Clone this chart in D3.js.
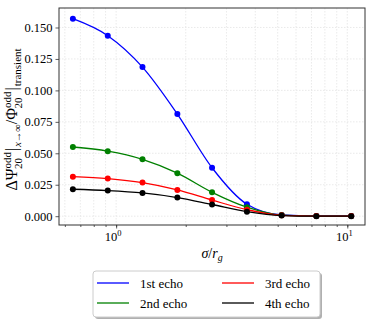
<!DOCTYPE html>
<html>
<head>
<meta charset="utf-8">
<script src="https://cdn.jsdelivr.net/npm/d3@7"></script>
<style>
    body { margin: 0; background: #fff; }
    text { font-family: "Liberation Serif", "DejaVu Serif", serif; fill: #000; }
</style>
</head>
<body>
<svg id="chart" width="374" height="322"></svg>
<script>
/*
 *  Echo amplitude ratio vs sigma / r_g.
 */
let sigmaValues = [0.65, 0.92, 1.30, 1.84, 2.60, 3.68, 5.20, 7.35, 10.4];
let echo1 = [0.157, 0.1435, 0.1185, 0.0812, 0.0385, 0.0095, 0.0010, 0.0002, 0.0002];
let echo2 = [0.0550, 0.0517, 0.0452, 0.0342, 0.0190, 0.0072, 0.0009, 0.0001, 0.0001];
let echo3 = [0.0314, 0.0299, 0.0267, 0.0209, 0.0128, 0.0052, 0.0007, 0.0001, 0.0001];
let echo4 = [0.0214, 0.0204, 0.0185, 0.0148, 0.0093, 0.0036, 0.0005, 0.0000, 0.0000];
let seriesNames = ["1st echo", "2nd echo", "3rd echo", "4th echo"];
let seriesColors = ["#0000ff", "#008000", "#ff0000", "#000000"];
let yTickValues = [0, 0.025, 0.05, 0.075, 0.1, 0.125, 0.15];

let svg = d3.select("#chart");
let margin = { left: 59, top: 8, right: 365, bottom: 225 };

let x = d3.scaleLog()
    .domain([0.566, 11.93])
    .range([margin.left, margin.right]);
let y = d3.scaleLinear()
    .domain([-0.0070, 0.1655])
    .range([margin.bottom, margin.top]);

// grid: major + minor on x, major on y
let xMinor = [];
[0.1, 1, 10].forEach(function (dec) {
    for (let k = 1; k < 10; k++) {
        let v = dec * k;
        if (v > x.domain()[0] && v < x.domain()[1]) xMinor.push(v);
    }
});
let grid = svg.append("g").attr("class", "grid");
grid.selectAll("line.vx")
    .data(xMinor)
    .enter().append("line")
    .attr("x1", d => x(d)).attr("x2", d => x(d))
    .attr("y1", margin.top).attr("y2", margin.bottom)
    .attr("stroke", "#e4e4e4").attr("stroke-width", 0.8)
    .attr("stroke-dasharray", "1.5,1.5");
grid.selectAll("line.hy")
    .data(yTickValues)
    .enter().append("line")
    .attr("x1", margin.left).attr("x2", margin.right)
    .attr("y1", d => y(d)).attr("y2", d => y(d))
    .attr("stroke", "#e4e4e4").attr("stroke-width", 0.8)
    .attr("stroke-dasharray", "1.5,1.5");

// axes
let xAxis = svg.append("g")
    .attr("transform", "translate(0," + margin.bottom + ")")
    .call(d3.axisBottom(x).tickValues(xMinor).tickSize(2).tickFormat(""));
let xMajor = svg.append("g")
    .attr("transform", "translate(0," + margin.bottom + ")")
    .call(d3.axisBottom(x).tickValues([1, 10]).tickSize(3.5).tickFormat(""));
[1, 10].forEach(function (v, i) {
    let t = svg.append("text")
        .attr("x", x(v) - 3)
        .attr("y", margin.bottom + 16)
        .attr("text-anchor", "middle")
        .style("font-size", "12.5px");
    t.append("tspan").text("10");
    t.append("tspan").attr("dy", -5).style("font-size", "8.5px").text(i);
});

let yAxis = svg.append("g")
    .attr("transform", "translate(" + margin.left + ",0)")
    .call(d3.axisLeft(y).tickValues(yTickValues).tickSize(3.5).tickPadding(3)
        .tickFormat(d3.format(".3f")));
yAxis.selectAll("text").style("font-size", "12.5px");

[xAxis, xMajor, yAxis].forEach(function (g) {
    g.select(".domain").remove();
    g.selectAll("line").attr("stroke", "#333").attr("stroke-width", 0.8);
});

svg.append("rect")
    .attr("x", margin.left).attr("y", margin.top)
    .attr("width", margin.right - margin.left)
    .attr("height", margin.bottom - margin.top)
    .attr("fill", "none").attr("stroke", "#333").attr("stroke-width", 1);

// lines + markers
let allSeries = [echo1, echo2, echo3, echo4];
let line = d3.line()
    .x(d => x(d[0]))
    .y(d => y(d[1]))
    .curve(d3.curveMonotoneX);

allSeries.forEach(function (vals, i) {
    let pts = sigmaValues.map((s, j) => [s, vals[j]]);
    svg.append("path")
        .datum(pts)
        .attr("d", line)
        .attr("fill", "none")
        .attr("stroke", seriesColors[i])
        .attr("stroke-width", 1.3);
    svg.selectAll(null)
        .data(pts)
        .enter().append("circle")
        .attr("cx", d => x(d[0]))
        .attr("cy", d => y(d[1]))
        .attr("r", 3)
        .attr("fill", seriesColors[i]);
});

// axis labels
let xl = svg.append("text")
    .attr("x", 212).attr("y", 258)
    .attr("text-anchor", "middle")
    .style("font-size", "14px");
xl.append("tspan").style("font-style", "italic").text("σ");
xl.append("tspan").text("/");
xl.append("tspan").style("font-style", "italic").text("r");
xl.append("tspan").attr("dy", 3).style("font-size", "10px").style("font-style", "italic").text("g");

let yl = svg.append("text")
    .attr("transform", "translate(17," + ((margin.top + margin.bottom) / 2 + 3) + ") rotate(-90)")
    .attr("text-anchor", "middle")
    .style("font-size", "16px");
yl.append("tspan").text("ΔΨ");
yl.append("tspan").attr("dy", -6).style("font-size", "11px").text("odd");
yl.append("tspan").attr("dx", -17).attr("dy", 11).style("font-size", "11px").text("20");
yl.append("tspan").attr("dx", 7).attr("dy", -5).text("|");
yl.append("tspan").attr("dx", 1).attr("dy", 4).style("font-size", "10.5px").style("font-style", "italic").text("x→∞");
yl.append("tspan").attr("dy", -4).text("/Φ");
yl.append("tspan").attr("dy", -6).style("font-size", "11px").text("odd");
yl.append("tspan").attr("dx", -17).attr("dy", 11).style("font-size", "11px").text("20");
yl.append("tspan").attr("dx", 7).attr("dy", -5).text("|");
yl.append("tspan").attr("dx", 1).attr("dy", 4).style("font-size", "11px").text("transient");

// legend
let lg = svg.append("g").attr("transform", "translate(93,271)");
lg.append("rect")
    .attr("x", 2).attr("y", 2).attr("width", 227).attr("height", 46)
    .attr("rx", 3).attr("fill", "#b0b0b0");
lg.append("rect")
    .attr("width", 227).attr("height", 46)
    .attr("rx", 3).attr("fill", "#fff")
    .attr("stroke", "#ccc").attr("stroke-width", 1);
let legendPos = [[0, 0], [0, 1], [1, 0], [1, 1]];
seriesNames.forEach(function (name, i) {
    let cx = legendPos[i][0] * 125;
    let cy = 12 + legendPos[i][1] * 20;
    lg.append("line")
        .attr("x1", cx + 4).attr("x2", cx + 36)
        .attr("y1", cy).attr("y2", cy)
        .attr("stroke", seriesColors[i]).attr("stroke-width", 1.3);
    lg.append("text")
        .attr("x", cx + 47).attr("y", cy + 4.5)
        .style("font-size", "13px")
        .text(name);
});
</script>
</body>
</html>
